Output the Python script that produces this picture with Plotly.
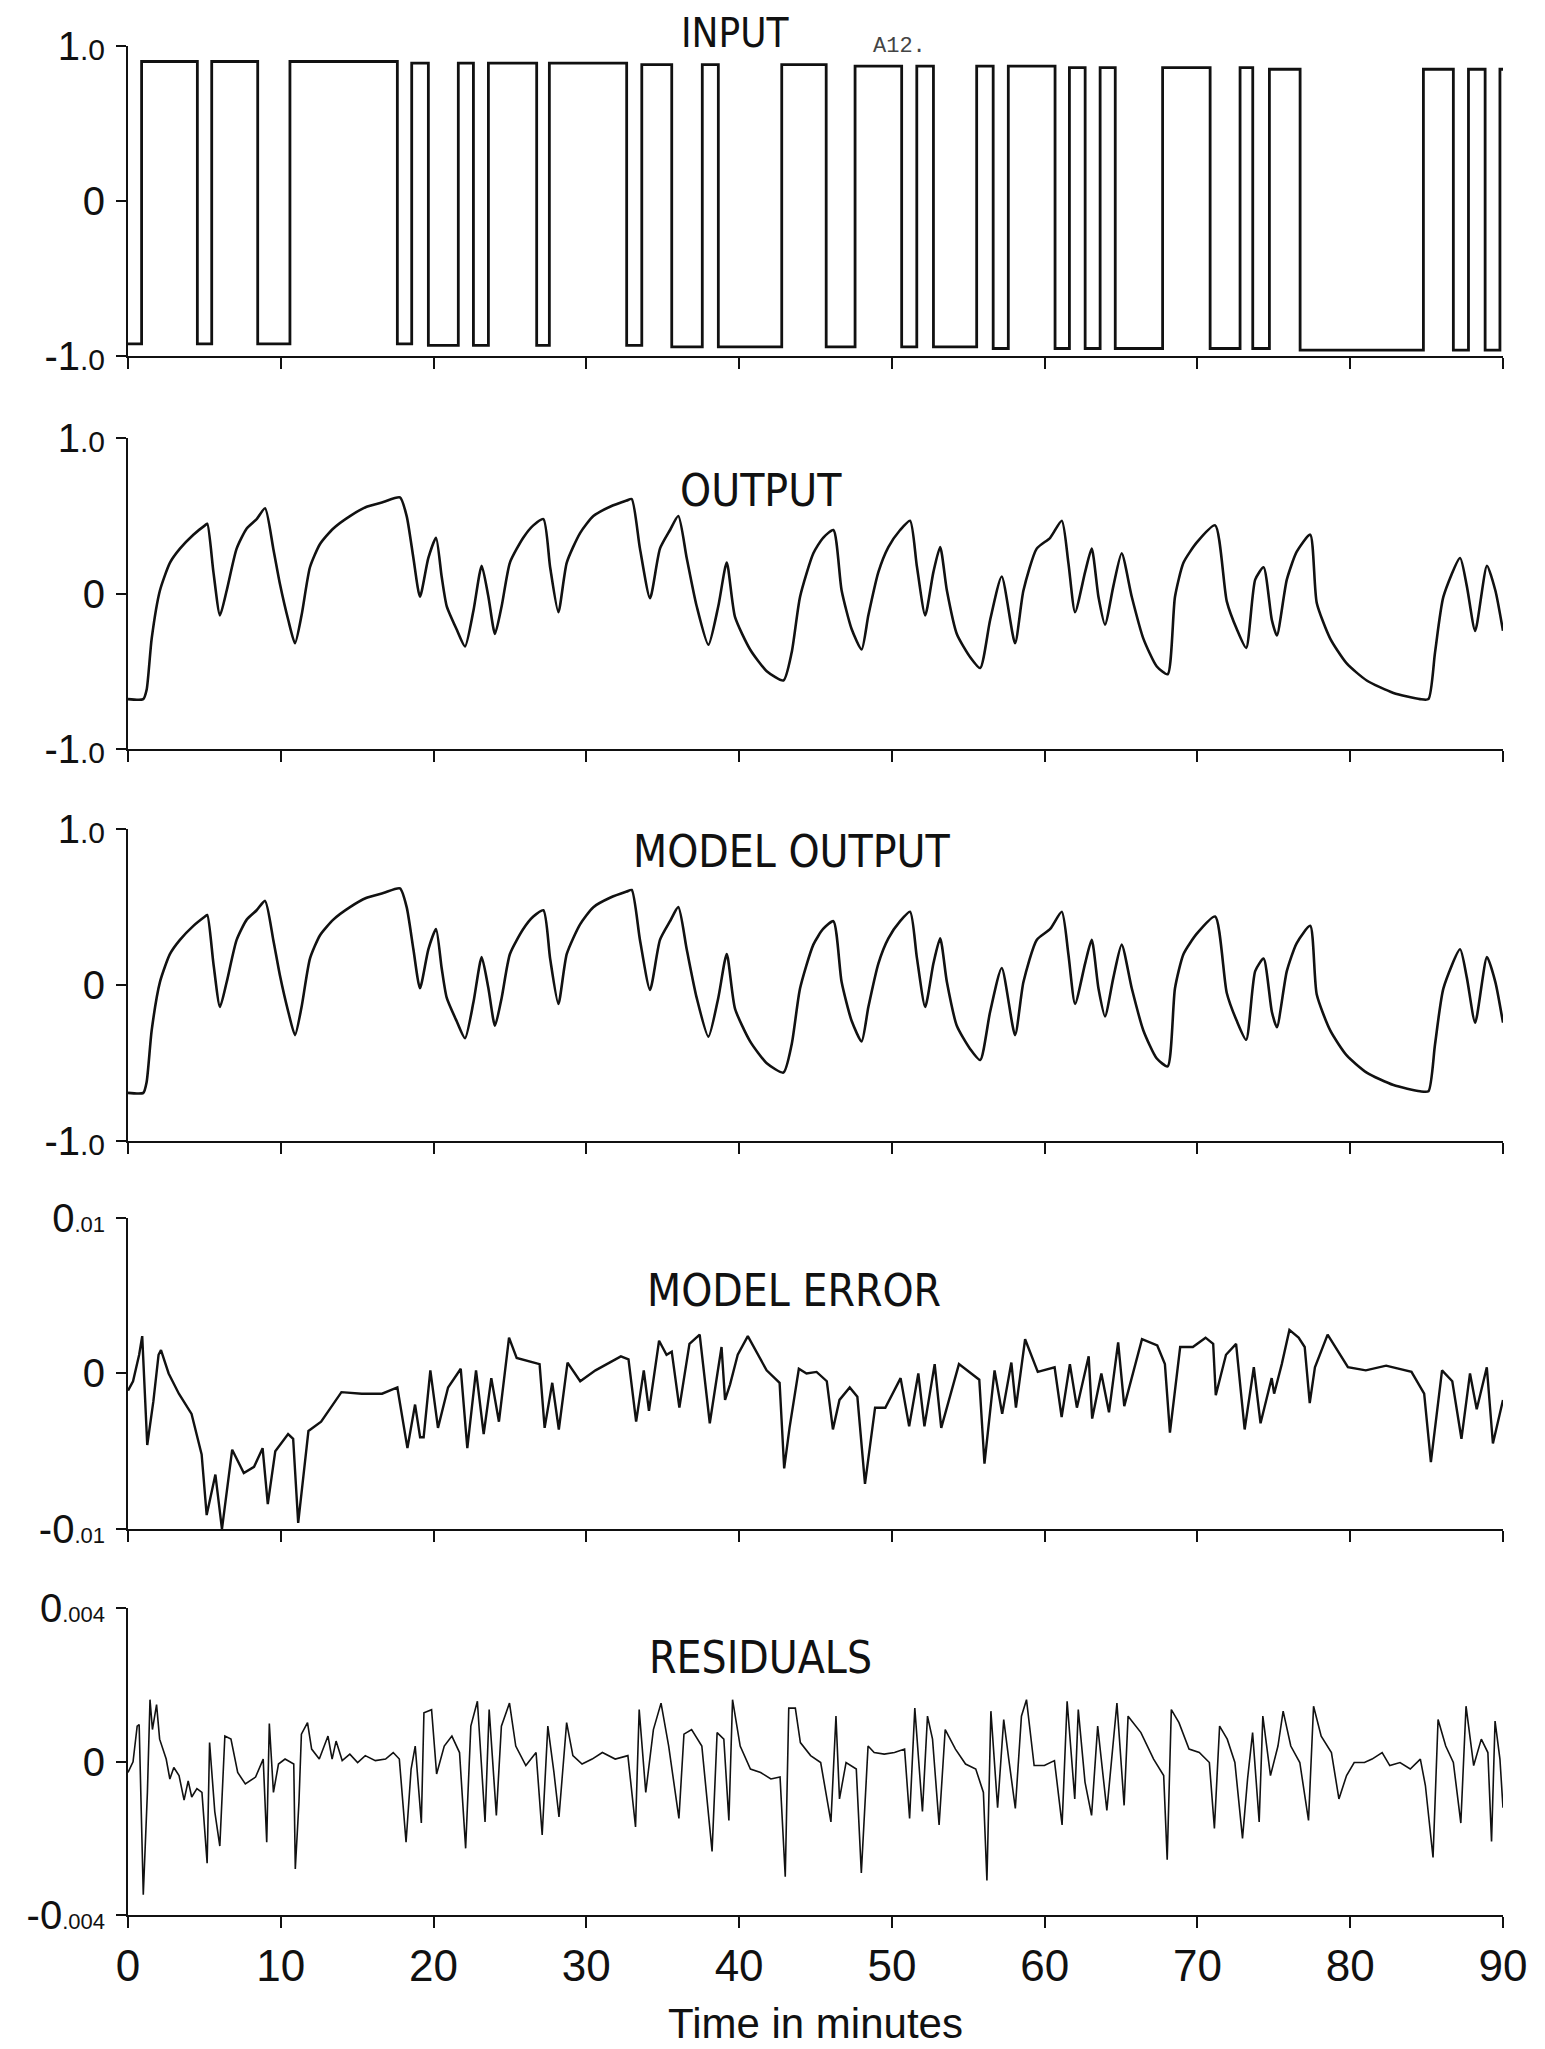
import plotly.graph_objects as go

# ---------------- data ----------------
input_switch_t = [0, 0.89, 4.54, 5.48, 8.49, 10.60, 17.63, 18.57, 19.66, 21.62, 22.61, 23.59,
                  26.75, 27.58, 32.64, 33.63, 35.59, 37.59, 38.64, 42.79, 45.7, 47.59, 50.64,
                  51.63, 52.72, 55.55, 56.63, 57.62, 60.68, 61.62, 62.65, 63.63, 64.62, 67.72,
                  70.83, 72.79, 73.62, 74.71, 76.72, 84.79, 86.75, 87.74, 88.83, 89.8, 90.0]
input_level = [-0.92, 0.90, -0.92, 0.90, -0.92, 0.90, -0.92, 0.89, -0.93, 0.89, -0.93, 0.89,
               -0.93, 0.89, -0.93, 0.88, -0.94, 0.88, -0.94, 0.88, -0.94, 0.87, -0.94,
               0.87, -0.94, 0.87, -0.95, 0.87, -0.95, 0.86, -0.95, 0.86, -0.95, 0.86,
               -0.95, 0.86, -0.95, 0.85, -0.96, 0.85, -0.96, 0.85, -0.96, 0.85, 0.85]

output_t = [0.0, 1.0, 1.22, 1.55, 2.09, 2.75, 3.4, 4.28, 5.04, 5.19, 5.59, 6.02, 6.46, 7.11,
            7.77, 8.42, 8.97, 9.51, 9.95, 10.49, 10.93, 11.36, 11.91, 12.57, 13.44, 14.53,
            15.62, 16.71, 17.8, 18.24, 18.68, 19.11, 19.66, 20.16, 20.53, 20.86, 21.51, 22.06,
            22.61, 23.15, 23.59, 24.02, 24.46, 25.0, 25.87, 26.53, 27.19, 27.63, 28.17, 28.72,
            29.59, 30.46, 31.55, 32.64, 32.97, 33.51, 34.17, 34.82, 35.48, 36.02, 36.57, 37.22,
            37.99, 38.64, 39.19, 39.73, 40.72, 41.81, 42.9, 43.44, 43.99, 44.86, 45.5, 46.17,
            46.71, 47.37, 48.02, 48.46, 49.12, 49.77, 50.54, 51.19, 51.63, 52.18, 52.72, 53.16,
            53.6, 54.25, 55.13, 55.78, 56.43, 57.19, 58.06, 58.61, 59.48, 60.36, 61.12, 61.55,
            61.99, 62.65, 63.08, 63.52, 63.95, 64.5, 65.04, 65.7, 66.46, 67.34, 68.05, 68.53,
            69.09, 69.96, 71.16, 71.92, 72.58, 73.19, 73.78, 74.33, 74.87, 75.2, 75.85, 76.5,
            77.38, 77.81, 78.69, 79.77, 81.08, 82.83, 84.57, 85.12, 85.55, 86.1, 87.19, 87.63,
            88.18, 88.95, 89.5, 90.0]
output_v = [-0.68, -0.68, -0.62, -0.29, 0.02, 0.20, 0.29, 0.38, 0.44, 0.45, 0.14, -0.14, 0.02, 0.29,
            0.42, 0.48, 0.55, 0.29, 0.06, -0.17, -0.32, -0.14, 0.17, 0.32, 0.42, 0.50,
            0.56, 0.59, 0.62, 0.50, 0.23, -0.02, 0.23, 0.36, 0.11, -0.08, -0.23, -0.34,
            -0.11, 0.18, -0.02, -0.26, -0.08, 0.20, 0.36, 0.44, 0.48, 0.17, -0.12, 0.20,
            0.39, 0.50, 0.56, 0.60, 0.61, 0.29, -0.03, 0.29, 0.41, 0.50, 0.23, -0.08,
            -0.33, -0.08, 0.20, -0.15, -0.36, -0.50, -0.56, -0.38, -0.02, 0.26, 0.36, 0.41,
            0.02, -0.23, -0.36, -0.14, 0.14, 0.30, 0.41, 0.47, 0.18, -0.14, 0.14, 0.30,
            0.02, -0.26, -0.41, -0.48, -0.17, 0.11, -0.32, 0.02, 0.29, 0.36, 0.47, 0.20,
            -0.12, 0.14, 0.29, -0.02, -0.20, 0.05, 0.26, -0.02, -0.29, -0.47, -0.52, -0.02,
            0.20, 0.33, 0.44, -0.05, -0.23, -0.35, 0.09, 0.17, -0.17, -0.27, 0.09, 0.27,
            0.38, -0.06, -0.29, -0.45, -0.56, -0.64, -0.68, -0.68, -0.38, -0.02, 0.23, 0.05,
            -0.24, 0.18, 0.02, -0.24]

model_output_t = output_t
model_output_v = [-0.69, -0.69, -0.62, -0.29, 0.02, 0.20, 0.29, 0.38, 0.44, 0.45, 0.14, -0.14, 0.02, 0.29,
                  0.42, 0.48, 0.54, 0.29, 0.06, -0.17, -0.32, -0.14, 0.17, 0.32, 0.42, 0.50,
                  0.56, 0.59, 0.62, 0.50, 0.23, -0.02, 0.23, 0.36, 0.11, -0.08, -0.23, -0.34,
                  -0.11, 0.18, -0.02, -0.26, -0.08, 0.20, 0.36, 0.44, 0.48, 0.17, -0.12, 0.20,
                  0.39, 0.50, 0.56, 0.60, 0.61, 0.29, -0.03, 0.29, 0.41, 0.50, 0.23, -0.08,
                  -0.33, -0.08, 0.20, -0.15, -0.36, -0.50, -0.56, -0.38, -0.02, 0.26, 0.36, 0.41,
                  0.02, -0.23, -0.36, -0.14, 0.14, 0.30, 0.41, 0.47, 0.18, -0.14, 0.14, 0.30,
                  0.02, -0.26, -0.41, -0.48, -0.17, 0.11, -0.32, 0.02, 0.29, 0.36, 0.47, 0.20,
                  -0.12, 0.14, 0.29, -0.02, -0.20, 0.05, 0.26, -0.02, -0.29, -0.47, -0.52, -0.02,
                  0.20, 0.33, 0.44, -0.05, -0.23, -0.35, 0.09, 0.17, -0.17, -0.27, 0.09, 0.27,
                  0.38, -0.06, -0.29, -0.45, -0.56, -0.64, -0.68, -0.68, -0.38, -0.02, 0.23, 0.05,
                  -0.24, 0.18, 0.02, -0.24]

# model error, in units of 0.001
model_error_t = [0.0, 0.33, 0.73, 0.93, 1.26, 1.66, 2.0, 2.16, 2.66, 3.33, 4.16, 4.82, 5.15, 5.72,
                 6.15, 6.82, 7.58, 8.25, 8.81, 9.15, 9.64, 10.48, 10.81, 11.14, 11.81, 12.64,
                 13.97, 15.3, 16.63, 17.63, 18.29, 18.79, 19.12, 19.35, 19.79, 20.29, 20.95,
                 21.78, 22.21, 22.78, 23.28, 23.78, 24.28, 24.94, 25.44, 26.94, 27.27, 27.77,
                 28.2, 28.77, 29.6, 30.6, 32.26, 32.76, 33.26, 33.76, 34.1, 34.76, 35.25, 35.59,
                 36.09, 36.75, 37.42, 38.08, 38.58, 38.85, 39.08, 39.41, 39.91, 40.57, 41.8,
                 42.65, 42.95, 43.3, 43.91, 44.41, 45.07, 45.74, 46.14, 46.57, 47.24, 47.74,
                 48.24, 48.9, 49.57, 50.57, 51.13, 51.73, 52.13, 52.8, 53.23, 54.39, 55.72,
                 56.06, 56.72, 57.22, 57.82, 58.12, 58.72, 59.55, 60.65, 61.11, 61.65, 62.11,
                 62.88, 63.11, 63.71, 64.21, 64.81, 65.21, 66.37, 67.37, 67.87, 68.2, 68.87,
                 69.7, 70.53, 71.03, 71.2, 71.87, 72.53, 73.09, 73.69, 74.13, 74.86, 75.02,
                 75.52, 76.02, 76.62, 77.02, 77.35, 77.69, 78.52, 79.85, 81.02, 82.35, 84.01,
                 84.84, 85.28, 86.01, 86.68, 87.28, 87.84, 88.28, 88.94, 89.34, 90.0]
model_error_v = [-1.1, -0.5, 1.2, 2.4, -4.6, -1.8, 1.2, 1.5, 0.0, -1.3, -2.6, -5.2, -9.1, -6.5,
                 -10.0, -4.9, -6.4, -6.0, -4.8, -8.4, -5.0, -3.9, -4.2, -9.6, -3.7, -3.1,
                 -1.2, -1.3, -1.3, -0.9, -4.8, -2.0, -4.1, -4.1, 0.2, -3.5, -0.9,
                 0.3, -4.8, 0.2, -3.9, -0.3, -3.1, 2.3, 1.0, 0.6, -3.5, -0.6,
                 -3.6, 0.7, -0.5, 0.2, 1.1, 0.9, -3.1, 0.2, -2.4, 2.1, 1.2, 1.4,
                 -2.2, 1.9, 2.5, -3.2, 0.0, 1.7, -1.7, -0.7, 1.2, 2.4, 0.2,
                 -0.6, -6.1, -3.5, 0.3, 0.0, 0.1, -0.5, -3.6, -1.7, -0.9, -1.5,
                 -7.1, -2.2, -2.2, -0.3, -3.4, 0.0, -3.4, 0.6, -3.5, 0.6, -0.4,
                 -5.8, 0.2, -2.6, 0.7, -2.2, 2.2, 0.1, 0.4, -2.8, 0.6, -2.2,
                 1.1, -2.9, 0.0, -2.5, 2.0, -2.1, 2.2, 1.8, 0.6, -3.8, 1.7,
                 1.7, 2.3, 1.9, -1.4, 1.2, 1.9, -3.6, 0.4, -3.2, -0.3, -1.3,
                 0.6, 2.8, 2.3, 1.7, -1.9, 0.4, 2.5, 0.4, 0.2, 0.5, 0.1,
                 -1.3, -5.7, 0.2, -0.5, -4.2, 0.0, -2.3, 0.4, -4.5, -1.7]

# residuals, in units of 0.001
residual_t = [0.0, 0.33, 0.6, 0.73, 1.0, 1.27, 1.44, 1.6, 1.87, 2.07, 2.5, 2.74, 3.0, 3.34, 3.67,
              3.94, 4.17, 4.51, 4.84, 5.18, 5.34, 5.68, 6.01, 6.34, 6.74, 7.18, 7.68, 8.35,
              8.85, 9.08, 9.25, 9.52, 9.85, 10.28, 10.85, 10.95, 11.19, 11.35, 11.75, 12.02,
              12.52, 13.09, 13.36, 13.62, 14.02, 14.52, 15.03, 15.53, 16.19, 16.86, 17.36,
              17.76, 18.2, 18.53, 18.8, 19.2, 19.37, 19.87, 20.2, 20.7, 21.2, 21.7, 22.1,
              22.44, 22.87, 23.2, 23.37, 23.64, 24.11, 24.44, 24.97, 25.38, 26.04, 26.71,
              27.11, 27.48, 27.88, 28.21, 28.71, 29.12, 29.72, 30.38, 31.05, 31.89, 32.72,
              33.22, 33.46, 33.89, 34.39, 34.89, 35.39, 36.06, 36.39, 36.89, 37.56, 38.23,
              38.56, 39.0, 39.33, 39.57, 40.07, 40.74, 41.41, 42.08, 42.68, 43.02, 43.25,
              43.68, 44.01, 44.68, 45.34, 46.01, 46.34, 46.57, 47.0, 47.67, 48.0, 48.44,
              48.84, 49.5, 50.17, 50.83, 51.16, 51.5, 52.0, 52.33, 52.66, 53.09, 53.49,
              54.16, 54.82, 55.49, 55.99, 56.22, 56.48, 56.92, 57.32, 57.65, 58.08, 58.48,
              58.81, 59.31, 59.98, 60.64, 61.14, 61.47, 61.97, 62.2, 62.64, 63.07, 63.47,
              64.07, 64.73, 65.2, 65.46, 66.3, 67.13, 67.79, 68.02, 68.29, 68.79, 69.45,
              70.12, 70.78, 71.11, 71.45, 71.95, 72.45, 72.95, 73.28, 73.61, 74.04, 74.28,
              74.78, 75.27, 75.61, 76.11, 76.7, 77.27, 77.6, 78.1, 78.77, 79.26, 79.76,
              80.26, 80.93, 81.43, 82.09, 82.59, 83.26, 83.93, 84.59, 84.92, 85.42, 85.75,
              86.25, 86.75, 87.24, 87.58, 88.08, 88.58, 89.01, 89.25, 89.48, 89.8, 90.0]
residual_v = [-0.28, 0.0, 0.93, 0.97, -3.47, -0.8, 1.62, 0.84, 1.49, 0.59, 0.07, -0.45, -0.15, -0.36, -1.0,
              -0.5, -0.92, -0.7, -0.8, -2.65, 0.5, -1.3, -2.2, 0.67, 0.59, -0.28, -0.58, -0.4,
              0.07, -2.1, 1.0, -0.8, -0.06, 0.07, -0.06, -2.8, -1.05, 0.72, 1.02, 0.33,
              0.07, 0.67, 0.07, 0.54, 0.03, 0.2, -0.02, 0.16, 0.03, 0.07, 0.24,
              0.07, -2.1, -0.19, 0.41, -1.6, 1.28, 1.36, -0.32, 0.41, 0.67, 0.24, -2.26,
              0.93, 1.58, -0.58, -1.57, 1.36, -1.4, 0.93, 1.53, 0.41, -0.1, 0.24,
              -1.91, 0.93, -0.28, -1.44, 1.02, 0.16, -0.06, 0.07, 0.24, 0.07, 0.16,
              -1.7, 1.36, -0.8, 0.84, 1.53, 0.41, -1.48, 0.72, 0.84, 0.41, -2.34,
              0.76, 0.59, -1.53, 1.62, 0.41, -0.19, -0.28, -0.45, -0.4, -3.0, 1.4,
              1.4, 0.5, 0.16, -0.02, -1.57, 1.19, -0.97, -0.02, -0.19, -2.9, 0.41,
              0.24, 0.2, 0.24, 0.33, -1.48, 1.4, -1.3, 1.19, 0.59, -1.65, 0.84,
              0.33, -0.06, -0.19, -0.8, -3.1, 1.32, -1.2, 1.1, 0.07, -1.22, 1.19,
              1.62, -0.1, -0.1, 0.03, -1.65, 1.58, -0.97, 1.36, -0.53, -1.4, 0.93,
              -1.27, 1.53, -1.14, 1.19, 0.76, 0.07, -0.36, -2.56, 1.36, 1.02, 0.33,
              0.24, -0.02, -1.74, 0.93, 0.59, -0.02, -2.0, -0.45, 0.76, -1.57, 1.19,
              -0.36, 0.41, 1.32, 0.41, -0.02, -1.53, 1.45, 0.67, 0.24, -0.97, -0.36,
              -0.02, -0.02, 0.07, 0.24, -0.1, -0.02, -0.19, 0.07, -0.62, -2.5, 1.1,
              0.41, -0.02, -1.6, 1.45, -0.1, 0.59, 0.24, -2.08, 1.06, 0.07, -1.2]

x_ticks = [0, 10, 20, 30, 40, 50, 60, 70, 80, 90]
titles = ["INPUT", "OUTPUT", "MODEL OUTPUT", "MODEL ERROR", "RESIDUALS"]

# ---------------- figure ----------------
BIG = 40
SM1 = 30
SM2 = 22
unit_ticktext = ["-1<span style='font-size:%dpx'>.0</span>" % SM1, "0",
                 "1<span style='font-size:%dpx'>.0</span>" % SM1]
err_ticktext = ["-0<span style='font-size:%dpx'>.01</span>" % SM2, "0",
                "0<span style='font-size:%dpx'>.01</span>" % SM2]
res_ticktext = ["-0<span style='font-size:%dpx'>.004</span>" % SM2, "0",
                "0<span style='font-size:%dpx'>.004</span>" % SM2]

panels = [
    dict(x=input_switch_t, y=input_level, shape="hv", width=2.8, rng=[-1, 1], tv=[-1, 0, 1], tt=unit_ticktext, dom=[0.834, 1.0]),
    dict(x=output_t, y=output_v, shape="spline", width=2.6, rng=[-1, 1], tv=[-1, 0, 1], tt=unit_ticktext, dom=[0.624, 0.790]),
    dict(x=model_output_t, y=model_output_v, shape="spline", width=2.6, rng=[-1, 1], tv=[-1, 0, 1], tt=unit_ticktext, dom=[0.414, 0.581]),
    dict(x=model_error_t, y=model_error_v, shape="linear", width=2.4, rng=[-10, 10], tv=[-10, 0, 10], tt=err_ticktext, dom=[0.2065, 0.373]),
    dict(x=residual_t, y=residual_v, shape="linear", width=1.6, rng=[-4, 4], tv=[-4, 0, 4], tt=res_ticktext, dom=[0.0, 0.164]),
]

FONT = "Liberation Sans, Arial, sans-serif"
NARROW = "Liberation Sans Narrow, Arial Narrow, DejaVu Sans Condensed, sans-serif"

fig = go.Figure()
# the page body adds an 8px offset; the figure is sized so the plot area lands at the reference position
layout = dict(
    width=1537, height=2041, autosize=False,
    margin=dict(l=120, r=42, t=38, b=134, autoexpand=False),
    paper_bgcolor="white", plot_bgcolor="white",
    showlegend=False,
    font=dict(family=FONT, color="#111", size=BIG),
)
for i, p in enumerate(panels, start=1):
    sfx = "" if i == 1 else str(i)
    line = dict(color="#111", width=p["width"])
    if p["shape"] == "spline":
        line["shape"] = "spline"
        line["smoothing"] = 0.6
    elif p["shape"] == "hv":
        line["shape"] = "hv"
    fig.add_trace(go.Scatter(x=p["x"], y=p["y"], mode="lines", line=line,
                             xaxis="x" + sfx, yaxis="y" + sfx, hoverinfo="skip"))
    layout["xaxis" + sfx] = dict(
        domain=[0, 1], anchor="y" + sfx, range=[0, 90], automargin=False,
        tickmode="array", tickvals=x_ticks, ticktext=[str(v) for v in x_ticks],
        showticklabels=(i == 5), ticks="outside", ticklen=11, tickwidth=2, tickcolor="#111",
        showline=True, linewidth=2, linecolor="#111", showgrid=False, zeroline=False,
        tickfont=dict(family=FONT, size=44, color="#111"), ticklabelstandoff=0,
    )
    layout["yaxis" + sfx] = dict(
        domain=p["dom"], anchor="x" + sfx, range=p["rng"], automargin=False,
        tickmode="array", tickvals=p["tv"], ticktext=p["tt"],
        ticks="outside", ticklen=10, tickwidth=2, tickcolor="#111",
        showline=True, linewidth=2, linecolor="#111", showgrid=False, zeroline=False,
        tickfont=dict(family=FONT, size=BIG, color="#111"), ticklabelstandoff=3,
    )

layout["xaxis5"]["title"] = dict(text="Time in minutes", font=dict(family=FONT, size=42, color="#111"), standoff=20)

annotations = []
# INPUT title hangs from the top edge of the figure
annotations.append(dict(text=titles[0], x=0.442, y=1.0, xref="paper", yref="paper", showarrow=False,
                        xanchor="center", yanchor="top", yshift=38,
                        font=dict(family=NARROW, size=40, color="#111")))
title_pos = [(0.460, 0.762), (0.483, 0.569), (0.484, 0.334), (0.460, 0.138)]
for t, (ax, ay) in zip(titles[1:], title_pos):
    annotations.append(dict(text=t, x=ax, y=ay, xref="paper", yref="paper", showarrow=False,
                            xanchor="center", yanchor="middle",
                            font=dict(family=NARROW, size=44, color="#111")))
annotations.append(dict(text="A12.", x=0.561, y=1.0, xref="paper", yref="paper", showarrow=False,
                        xanchor="center", yanchor="middle",
                        font=dict(family="Liberation Mono, DejaVu Sans Mono, monospace", size=22, color="#444")))
layout["annotations"] = annotations
fig.update_layout(**layout)

fig.write_html("out.html")
